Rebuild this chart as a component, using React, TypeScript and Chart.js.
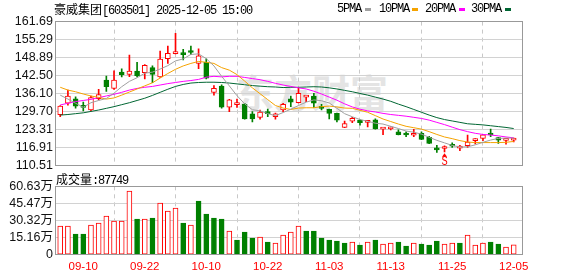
import React, { useEffect, useRef } from "react";
import { Chart, registerables } from "chart.js";

Chart.register(...registerables);

// ---------------- data ----------------
const stockName = "豪威集团";
const stockCodeTime = "[603501] 2025-12-05 15:00";
const volumeLabel = "成交量";
const lastVolume = "87749";

const dates = [
  "09-05", "09-08", "09-09", "09-10", "09-11", "09-12", "09-15", "09-16", "09-17", "09-18",
  "09-19", "09-22", "09-23", "09-24", "09-25", "09-26", "09-29", "09-30", "10-09", "10-10",
  "10-13", "10-14", "10-15", "10-16", "10-17", "10-20", "10-21", "10-22", "10-23", "10-24",
  "10-27", "10-28", "10-29", "10-30", "10-31", "11-03", "11-04", "11-05", "11-06", "11-07",
  "11-10", "11-11", "11-12", "11-13", "11-14", "11-17", "11-18", "11-19", "11-20", "11-21",
  "11-24", "11-25", "11-26", "11-27", "11-28", "12-01", "12-02", "12-03", "12-04", "12-05",
];

const opens = [
  128.5, 132.6, 134.2, 131.9, 130.2, 134.2, 140.9, 137.9, 143.7, 142.9,
  144.1, 143.5, 145.3, 142.0, 148.5, 150.3, 150.5, 151.1, 146.8, 147.2,
  136.5, 138.7, 131.2, 132.1, 132.2, 128.8, 127.6, 129.2, 127.8, 130.2,
  134.2, 132.8, 134.8, 135.2, 131.0, 130.4, 129.0, 124.0, 126.2, 126.6,
  125.8, 126.7, 123.4, 123.5, 122.4, 121.5, 121.2, 121.9, 120.5, 116.7,
  116.5, 117.5, 116.6, 117.5, 119.3, 120.1, 121.5, 120.4, 119.4, 119.5,
];
const highs = [
  131.8, 137.3, 134.9, 133.0, 135.2, 137.6, 142.3, 144.2, 144.9, 149.8,
  147.2, 146.4, 145.9, 151.2, 153.0, 157.5, 151.8, 153.0, 152.0, 148.4,
  138.9, 139.2, 134.0, 134.1, 132.6, 129.6, 130.2, 130.5, 129.1, 132.6,
  135.2, 137.9, 134.9, 136.1, 132.2, 130.5, 129.1, 126.3, 127.6, 126.8,
  125.9, 127.1, 123.5, 124.2, 123.1, 122.4, 123.3, 122.4, 120.8, 117.6,
  117.4, 118.5, 117.6, 121.3, 120.0, 121.5, 123.4, 120.5, 120.1, 120.2,
];
const lows = [
  127.8, 131.9, 130.9, 129.9, 129.9, 133.8, 136.8, 137.5, 142.0, 142.1,
  142.0, 141.3, 139.9, 141.8, 146.8, 150.2, 148.0, 149.9, 144.9, 141.3,
  135.5, 130.9, 129.6, 131.1, 126.9, 126.0, 126.9, 127.8, 126.9, 129.6,
  131.4, 132.7, 133.2, 131.1, 130.2, 127.0, 126.0, 123.9, 125.7, 124.8,
  124.2, 123.4, 121.4, 123.1, 121.3, 120.7, 120.7, 119.6, 118.2, 115.1,
  115.3, 116.9, 115.7, 116.9, 118.1, 119.3, 120.7, 118.3, 118.0, 118.8,
];
const closes = [
  131.6, 135.2, 131.6, 131.1, 134.6, 135.7, 138.5, 140.9, 142.8, 144.1,
  142.4, 146.1, 142.9, 148.3, 150.4, 150.7, 149.9, 150.7, 149.5, 141.5,
  137.9, 131.2, 133.8, 132.3, 127.0, 127.0, 129.5, 128.9, 128.8, 132.2,
  133.0, 136.1, 134.9, 132.6, 130.8, 129.0, 126.6, 125.4, 127.2, 125.7,
  125.9, 123.5, 123.5, 123.6, 121.4, 121.3, 121.9, 119.7, 118.3, 116.0,
  116.8, 117.3, 116.8, 118.8, 119.4, 121.4, 121.3, 119.5, 119.6, 119.7,
];

// volume in 万
const volumes = [
  25.4, 25.4, 18.3, 18.3, 26.3, 28.1, 34.3, 29.9, 29.9, 56.5,
  31.6, 31.6, 32.5, 45.8, 38.7, 41.4, 28.1, 26.3, 47.6, 36.1,
  32.5, 31.6, 21.0, 13.0, 20.1, 14.8, 15.7, 11.2, 10.4, 17.5,
  20.1, 25.4, 21.0, 21.0, 14.8, 13.0, 12.1, 10.4, 11.2, 8.6,
  11.2, 13.0, 9.5, 10.4, 11.2, 7.7, 10.4, 9.5, 8.6, 12.1,
  9.5, 10.4, 10.4, 17.5, 8.6, 10.4, 11.2, 9.5, 6.8, 8.77,
];
// 1 = up day (red), 0 = down day (green)
const volumeUp = [
  1, 1, 0, 0, 1, 1, 1, 1, 1, 1,
  0, 1, 0, 1, 1, 1, 0, 1, 0, 0,
  0, 0, 1, 0, 0, 0, 1, 0, 1, 1,
  1, 1, 0, 0, 0, 0, 0, 0, 1, 0,
  1, 0, 1, 1, 0, 0, 1, 0, 0, 0,
  1, 1, 0, 1, 1, 1, 0, 0, 1, 1,
];

const ma5 = [
  135.5, 134.1, 132.6, 131.2, 132.8, 133.6, 134.3, 136.2, 138.5, 140.4,
  141.7, 143.3, 143.7, 144.8, 146.0, 147.7, 148.4, 150.0, 150.2, 148.5,
  145.9, 142.2, 138.8, 135.3, 132.4, 130.3, 129.9, 128.9, 128.2, 129.3,
  130.5, 131.8, 133.0, 133.8, 133.5, 132.7, 130.8, 128.9, 127.8, 126.8,
  126.2, 125.5, 125.2, 124.4, 123.6, 122.7, 122.3, 121.6, 120.5, 119.4,
  118.5, 117.6, 117.0, 117.1, 117.8, 118.7, 119.5, 120.1, 120.2, 120.2,
];
const ma10 = [
  138.3, 137.3, 136.7, 135.9, 135.2, 134.7, 134.1, 134.5, 135.5, 136.6,
  137.7, 138.8, 139.9, 141.6, 143.2, 144.7, 145.9, 146.8, 147.5, 147.2,
  146.8, 145.3, 144.4, 142.8, 140.5, 138.1, 136.0, 133.9, 131.8, 130.9,
  130.4, 130.9, 131.0, 131.0, 131.4, 131.6, 131.3, 130.9, 130.8, 130.1,
  129.4, 128.2, 127.0, 126.1, 125.2, 124.4, 123.9, 123.4, 122.5, 121.5,
  120.6, 120.0, 119.3, 118.8, 118.6, 118.6, 118.6, 118.6, 118.7, 119.0,
];
const ma20 = [
  132.0, 132.6, 133.2, 133.6, 134.0, 134.6, 135.2, 135.8, 136.5, 137.3,
  137.9, 138.3, 138.6, 139.1, 139.6, 140.0, 140.4, 140.7, 141.1, 141.9,
  142.2, 142.0, 142.2, 142.2, 141.8, 141.4, 141.0, 140.4, 139.7, 139.1,
  138.6, 138.1, 137.7, 136.9, 135.9, 134.8, 133.7, 132.4, 131.3, 130.5,
  129.9, 129.5, 129.0, 128.6, 128.3, 128.0, 127.6, 127.2, 126.6, 125.8,
  125.0, 124.1, 123.2, 122.5, 121.9, 121.5, 121.3, 121.0, 120.6, 120.3,
];
const ma30 = [
  128.4, 128.6, 128.9, 129.2, 129.7, 130.2, 130.8, 131.4, 132.1, 132.8,
  133.6, 134.4, 135.4, 136.5, 137.6, 138.6, 139.3, 139.8, 140.0, 140.1,
  140.1, 140.0, 139.8, 139.5, 139.2, 138.9, 138.7, 138.5, 138.4, 138.2,
  138.3, 138.3, 138.4, 138.5, 138.4, 138.1, 137.7, 137.2, 136.7, 136.1,
  135.5, 134.8, 134.1, 133.3, 132.3, 131.4, 130.4, 129.4, 128.4, 127.5,
  126.8, 126.3, 125.8, 125.3, 125.1, 124.9, 124.6, 124.3, 124.0, 123.6,
];

const maNames = ["5PMA", "10PMA", "20PMA", "30PMA"];
const maSeries = [ma5, ma10, ma20, ma30];

const priceTicks = [161.69, 155.29, 148.89, 142.5, 136.1, 129.7, 123.31, 116.91, 110.51];
const priceTickLabels = ["161.69", "155.29", "148.89", "142.50", "136.10", "129.70", "123.31", "116.91", "110.51"];
const volumeTicks = [60.63, 45.47, 30.32, 15.16, 0];
const volumeTickLabels = ["60.63万", "45.47万", "30.32万", "15.16万", "0"];
const dateTickLabels = ["09-10", "09-22", "10-10", "10-22", "11-03", "11-13", "11-25", "12-05"];

const signalDate = "11-24";
const signalText = "S";
const watermark = "东方财富";

// ---------------- styles ----------------
const RED = "#ff0000";
const GREEN = "#008000";
const MA_COLORS = ["#a0a0a0", "#f5a300", "#ff00ff", "#006633"];
const GRID = "#d2d2d2";
const FRAME = "#999999";

const W = 578;
const PLOT_L = 56;
const PLOT_R = 522;
const MAIN_H = 180;
const MAIN_TOP = 21.6;
const MAIN_BOTTOM = 165.3;
const VOL_Y = 170;
const VOL_H = 106;
const VOL_TOP = 186.3;
const VOL_BOTTOM = 254.7;
const X_MIN = -0.55;
const X_MAX = 60.08;

const tickIdx = dateTickLabels.map((d) => dates.indexOf(d));

const framePlugin = {
  id: "frame",
  afterDraw(chart: any) {
    const { left, top, right, bottom } = chart.chartArea;
    const ctx = chart.ctx;
    ctx.save();
    ctx.strokeStyle = FRAME;
    ctx.lineWidth = 1;
    const l = Math.floor(left) - 0.5;
    const t = Math.floor(top) + 0.5;
    const r = Math.floor(right) + 0.5;
    const b = Math.floor(bottom) + 0.5;
    ctx.strokeRect(l, t, r - l, b - t);
    ctx.restore();
  },
};

const signalPlugin = {
  id: "signal",
  afterDatasetsDraw(chart: any) {
    const i = dates.indexOf(signalDate);
    if (i < 0) return;
    const xs = chart.scales.x;
    const ys = chart.scales.y;
    const x = xs.getPixelForValue(i);
    const y = ys.getPixelForValue(lows[i]) + 1.5;
    const ctx = chart.ctx;
    ctx.save();
    ctx.fillStyle = RED;
    ctx.beginPath();
    ctx.moveTo(x, y);
    ctx.lineTo(x - 2.5, y + 3.5);
    ctx.lineTo(x + 2.5, y + 3.5);
    ctx.closePath();
    ctx.fill();
    ctx.translate(x, y + 11.5);
    ctx.scale(0.8, 1);
    ctx.font = '13px "Liberation Mono"';
    ctx.textAlign = "center";
    ctx.textBaseline = "alphabetic";
    ctx.fillText(signalText, 0, 0);
    ctx.restore();
  },
};

function xScaleBase(showLabels: boolean) {
  return {
    type: "linear",
    min: X_MIN,
    max: X_MAX,
    offset: false,
    afterBuildTicks: (s: any) => {
      s.ticks = tickIdx.map((v) => ({ value: v }));
    },
    ticks: {
      display: showLabels,
      autoSkip: false,
      maxRotation: 0,
      color: RED,
      font: { size: 11.5, family: '"Liberation Sans", Arial, sans-serif' },
      padding: 5,
      callback: (v: any) => dateTickLabels[tickIdx.indexOf(v)] ?? "",
    },
    grid: { color: "#c8c8c8", drawTicks: false, lineWidth: 1 },
    border: { display: false, dash: [4, 4] },
  };
}

export default function App() {
  const mainRef = useRef<HTMLCanvasElement>(null);
  const volRef = useRef<HTMLCanvasElement>(null);

  useEffect(() => {
    const up = closes.map((c, i) => c >= opens[i]);

    const mainChart = new Chart(mainRef.current as HTMLCanvasElement, {
      type: "bar",
      data: {
        datasets: [
          ...maSeries.map((s, k) => ({
            type: "line" as const,
            label: maNames[k],
            data: s.map((y, i) => ({ x: i, y })),
            borderColor: MA_COLORS[k],
            borderWidth: 1,
            pointRadius: 0,
            tension: 0,
            order: 1,
          })),
          {
            type: "bar" as const,
            label: "body",
            data: opens.map((o, i) => ({ x: i, y: [o, closes[i]] })),
            backgroundColor: up.map((u) => (u ? "#ffffff" : GREEN)),
            borderColor: up.map((u) => (u ? RED : GREEN)),
            borderWidth: 1,
            borderSkipped: false,
            barThickness: 5,
            maxBarThickness: 5,
            minBarLength: 2,
            grouped: false,
            order: 5,
          },
          {
            type: "bar" as const,
            label: "wick",
            data: lows.map((l, i) => ({ x: i, y: [l, highs[i]] })),
            backgroundColor: up.map((u) => (u ? RED : GREEN)),
            borderWidth: 0,
            barThickness: 1,
            maxBarThickness: 1,
            grouped: false,
            order: 6,
          },
        ] as any,
      },
      options: {
        responsive: false,
        animation: false,
        events: [],
        layout: { padding: { left: 0, right: W - PLOT_R, top: MAIN_TOP, bottom: MAIN_H - MAIN_BOTTOM } },
        plugins: { legend: { display: false }, tooltip: { enabled: false } },
        scales: {
          x: {
            ...(xScaleBase(false) as any),
            afterFit: (s: any) => {
              s.height = 0;
            },
          },
          y: {
            type: "linear",
            min: priceTicks[priceTicks.length - 1],
            max: priceTicks[0],
            afterBuildTicks: (s: any) => {
              s.ticks = priceTicks.map((v) => ({ value: v }));
            },
            ticks: {
              autoSkip: false,
              color: "#111",
              font: { size: 12.5, family: '"Liberation Sans", Arial, sans-serif' },
              padding: 3,
              callback: (v: any) => priceTickLabels[priceTicks.indexOf(v)] ?? "",
            },
            grid: { color: GRID, drawTicks: false },
            border: { display: false },
            afterFit: (s: any) => {
              s.width = PLOT_L;
            },
          },
        },
      } as any,
      plugins: [framePlugin, signalPlugin],
    });

    const volChart = new Chart(volRef.current as HTMLCanvasElement, {
      type: "bar",
      data: {
        datasets: [
          {
            label: volumeLabel,
            data: volumes.map((v, i) => ({ x: i, y: v })),
            backgroundColor: volumeUp.map((u) => (u ? "#ffffff" : GREEN)),
            borderColor: volumeUp.map((u) => (u ? RED : GREEN)),
            borderWidth: 1,
            borderSkipped: false,
            barThickness: 5,
            maxBarThickness: 5,
            grouped: false,
          },
        ] as any,
      },
      options: {
        responsive: false,
        animation: false,
        events: [],
        layout: { padding: { left: 0, right: W - PLOT_R, top: VOL_TOP - VOL_Y, bottom: 0 } },
        plugins: { legend: { display: false }, tooltip: { enabled: false } },
        scales: {
          x: {
            ...(xScaleBase(true) as any),
            afterFit: (s: any) => {
              s.height = VOL_Y + VOL_H - VOL_BOTTOM;
            },
          },
          y: {
            type: "linear",
            min: 0,
            max: volumeTicks[0],
            afterBuildTicks: (s: any) => {
              s.ticks = volumeTicks.map((v) => ({ value: v }));
            },
            ticks: {
              autoSkip: false,
              color: "#111",
              font: { size: 12.5, family: '"Liberation Sans", "Noto Sans CJK SC", sans-serif' },
              padding: 3,
              callback: (v: any) => volumeTickLabels[volumeTicks.indexOf(v)] ?? "",
            },
            grid: { color: GRID, drawTicks: false },
            border: { display: false },
            afterFit: (s: any) => {
              s.width = PLOT_L;
            },
          },
        },
      } as any,
      plugins: [framePlugin],
    });

    return () => {
      mainChart.destroy();
      volChart.destroy();
    };
  }, []);

  const mono: React.CSSProperties = {
    fontFamily: '"Liberation Mono", monospace',
    letterSpacing: "-1.2px",
  };
  const cjk: React.CSSProperties = {
    fontFamily: '"Noto Sans CJK SC", sans-serif',
  };
  const legendLefts = [337, 379, 425, 471];
  const markerLefts = [365, 412, 459, 505];

  return (
    <div
      style={{
        position: "fixed",
        left: 0,
        top: 0,
        width: W,
        height: 276,
        background: "#fff",
        overflow: "hidden",
        color: "#000",
        fontSize: 12,
      }}
    >
      <div
        style={{
          position: "absolute",
          left: 236,
          top: 66,
          fontFamily: '"Noto Sans CJK SC", sans-serif',
          fontWeight: 700,
          fontSize: 38,
          lineHeight: "50px",
          color: "#e4e4e4",
          whiteSpace: "nowrap",
        }}
      >
        {watermark}
      </div>
      <canvas
        ref={mainRef}
        width={W}
        height={MAIN_H}
        style={{ position: "absolute", left: 0, top: 0, width: W, height: MAIN_H }}
      />
      <canvas
        ref={volRef}
        width={W}
        height={VOL_H}
        style={{ position: "absolute", left: 0, top: VOL_Y, width: W, height: VOL_H }}
      />
      <div style={{ position: "absolute", left: 54, top: 2, lineHeight: "14px", whiteSpace: "nowrap" }}>
        <span style={cjk}>{stockName}</span>
        <span style={mono}>{stockCodeTime}</span>
      </div>
      {maNames.map((n, k) => (
        <React.Fragment key={n}>
          <div
            style={{
              position: "absolute",
              left: legendLefts[k],
              top: 2,
              lineHeight: "14px",
              whiteSpace: "nowrap",
              ...mono,
            }}
          >
            {n}
          </div>
          <div
            style={{
              position: "absolute",
              left: markerLefts[k],
              top: 8,
              width: 6,
              height: 3,
              background: MA_COLORS[k],
            }}
          />
        </React.Fragment>
      ))}
      <div style={{ position: "absolute", left: 56, top: 172, lineHeight: "14px", whiteSpace: "nowrap" }}>
        <span style={cjk}>{volumeLabel}</span>
        <span style={mono}>{":" + lastVolume}</span>
      </div>
    </div>
  );
}
